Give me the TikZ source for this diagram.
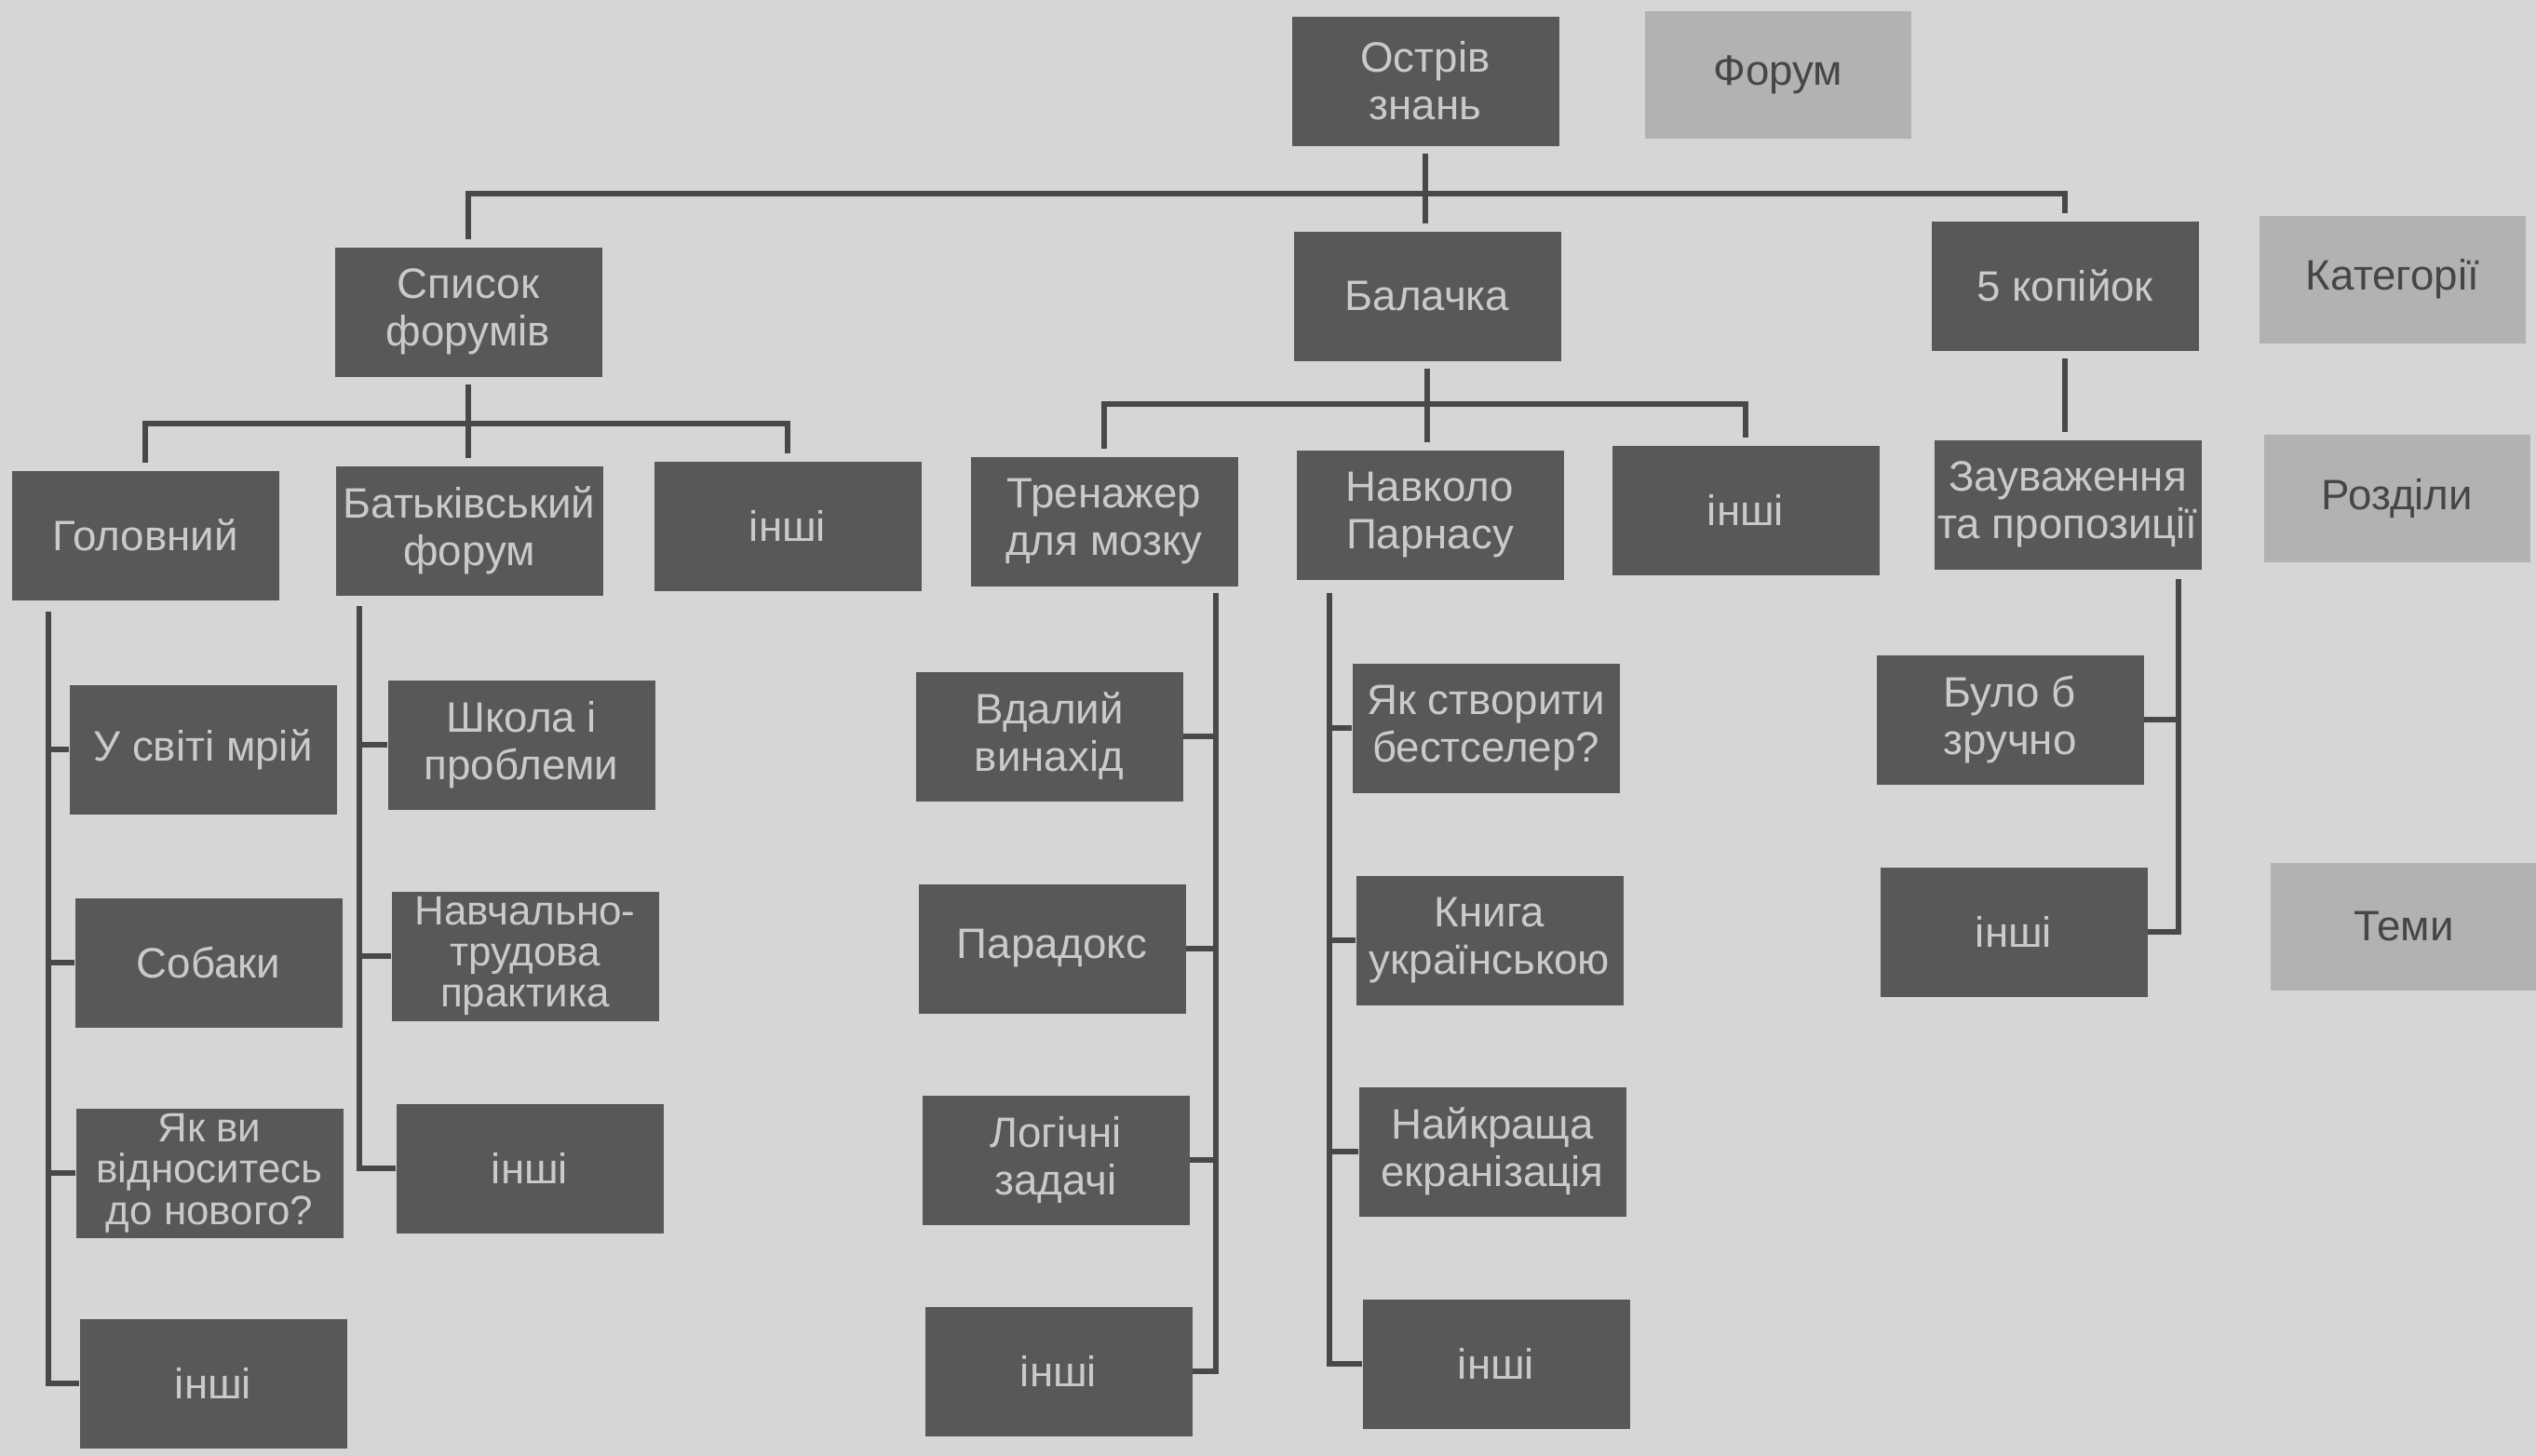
\documentclass[tikz,border=0pt]{standalone}
\usepackage{fontspec}
\setmainfont{Liberation Sans}
\usetikzlibrary{calc}
\definecolor{bgc}{RGB}{214,214,212}
\definecolor{boxc}{RGB}{88,88,88}
\definecolor{boxtxt}{RGB}{202,202,202}
\definecolor{legc}{RGB}{178,178,178}
\definecolor{legtxt}{RGB}{70,70,70}
\definecolor{linec}{RGB}{72,72,72}
\tikzset{
  box/.style={fill=boxc, text=boxtxt, minimum width=2.87cm, minimum height=1.39cm,
    inner sep=0pt, align=center, font=\fontsize{13}{14.5}\selectfont},
  tight/.style={font=\fontsize{12.5}{12.6}\selectfont},
  legend/.style={fill=legc, text=legtxt, minimum width=2.86cm, minimum height=1.37cm,
    inner sep=0pt, align=center, font=\fontsize{13}{14.5}\selectfont},
  link/.style={draw=linec, line width=1.6pt, shorten <=0.08cm, shorten >=0.08cm},
  tick/.style={draw=linec, line width=1.6pt}
}
\begin{document}
\begin{tikzpicture}
  \fill[bgc] (0,0) rectangle (27.24,-15.64);
  \useasboundingbox (0,0) rectangle (27.24,-15.64);
  % forum and categories
  \node[box] (root) at (15.31,-0.87) {Острів\\знань};
  \node[legend] (forum) at (19.10,-0.80) {Форум};
  \node[box] (spysok) at (5.03,-3.35) {Список\\форумів};
  \node[box] (balachka) at (15.33,-3.18) {Балачка};
  \node[box] (kopiyok) at (22.18,-3.07) {5 копійок};
  \node[legend] (kat) at (25.70,-3.00) {Категорії};
  % sections
  \node[box] (holov) at (1.56,-5.75) {Головний};
  \node[box] (batk) at (5.04,-5.70) {Батьківський\\форум};
  \node[box] (inshi1) at (8.46,-5.65) {інші};
  \node[box] (trenazh) at (11.86,-5.60) {Тренажер\\для мозку};
  \node[box] (navkolo) at (15.36,-5.53) {Навколо\\Парнасу};
  \node[box] (inshi2) at (18.75,-5.48) {інші};
  \node[box] (zauv) at (22.21,-5.42) {Зауваження\\та пропозиції};
  \node[legend] (rozdily) at (25.75,-5.35) {Розділи};
  % topics
  \node[box] (h1) at (2.18,-8.05) {У світі мрій};
  \node[box] (h2) at (2.24,-10.34) {Собаки};
  \node[box, tight] (h3) at (2.25,-12.60) {Як ви\\відноситесь\\до нового?};
  \node[box] (h4) at (2.29,-14.86) {інші};
  \node[box] (b1) at (5.60,-8.00) {Школа і\\проблеми};
  \node[box, tight] (b2) at (5.64,-10.27) {Навчально-\\трудова\\практика};
  \node[box] (b3) at (5.69,-12.55) {інші};
  \node[box] (t1) at (11.27,-7.91) {Вдалий\\винахід};
  \node[box] (t2) at (11.30,-10.19) {Парадокс};
  \node[box] (t3) at (11.34,-12.46) {Логічні\\задачі};
  \node[box] (t4) at (11.37,-14.73) {інші};
  \node[box] (n1) at (15.96,-7.82) {Як створити\\бестселер?};
  \node[box] (n2) at (16.00,-10.10) {Книга\\українською};
  \node[box] (n3) at (16.03,-12.37) {Найкраща\\екранізація};
  \node[box] (n4) at (16.07,-14.65) {інші};
  \node[box] (z1) at (21.59,-7.73) {Було б\\зручно};
  \node[box] (z2) at (21.63,-10.01) {інші};
  \node[legend] (temy) at (25.82,-9.95) {Теми};
  % buses
  \coordinate (bus0) at (15.31,-2.08);
  \coordinate (bus1) at (5.03,-4.55);
  \coordinate (bus2) at (15.33,-4.34);
  \draw[link] (root.south) -- (root.south |- balachka.north);
  \draw[link] (spysok.north) |- (bus0) -| (kopiyok.north);
  \draw[link] (spysok.south) -- (spysok.south |- batk.north);
  \draw[link] (holov.north) |- (bus1) -| (inshi1.north);
  \draw[link] (balachka.south) -- (balachka.south |- navkolo.north);
  \draw[link] (trenazh.north) |- (bus2) -| (inshi2.north);
  \draw[link] (kopiyok.south) -- (kopiyok.south |- zauv.north);
  % spines
  \coordinate (sh) at (0.52,-6.57);
  \coordinate (sb) at (3.86,-6.51);
  \coordinate (st) at (13.06,-6.37);
  \coordinate (sn) at (14.28,-6.37);
  \coordinate (sz) at (23.40,-6.22);
  \foreach \t in {h1,h2,h3,h4} \draw[tick] (sh) |- (\t.west);
  \foreach \t in {b1,b2,b3} \draw[tick] (sb) |- (\t.west);
  \foreach \t in {t1,t2,t3,t4} \draw[tick] (st) |- (\t.east);
  \foreach \t in {n1,n2,n3,n4} \draw[tick] (sn) |- (\t.west);
  \foreach \t in {z1,z2} \draw[tick] (sz) |- (\t.east);
\end{tikzpicture}
\end{document}
